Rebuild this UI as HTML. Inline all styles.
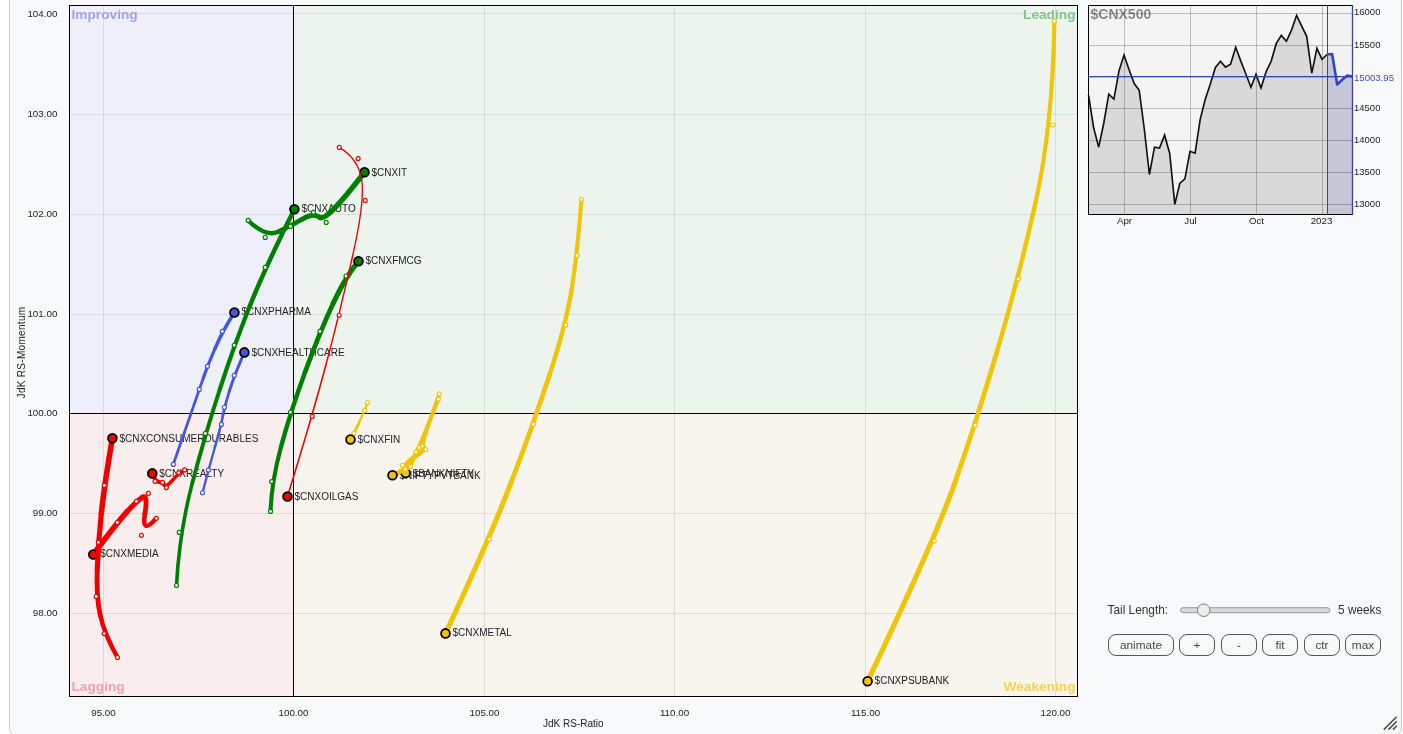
<!DOCTYPE html>
<html lang="en">
<head>
<meta charset="utf-8">
<title>Relative Rotation Graph</title>
<style>
html,body{margin:0;padding:0;background:#fff;}
body{width:1403px;height:734px;overflow:hidden;position:relative;font-family:"Liberation Sans", Arial, sans-serif;}
#panel{position:absolute;left:9px;top:-12px;width:1391px;height:746px;border:1px solid #cdcdcd;border-radius:8px;background:#f8f9fa;}
#chart{position:absolute;left:0;top:0;}
svg text{font-family:"Liberation Sans", Arial, sans-serif;}
.tick{font-size:9.8px;fill:#222;}
.lbl{font-size:10px;fill:#222;}
.quad{font-size:13.7px;font-weight:bold;}
#controls{position:absolute;left:0;top:0;font-size:11.85px;color:#333;}
#controls .t{position:absolute;white-space:nowrap;line-height:14px;}
.btn{position:absolute;top:634px;height:22px;box-sizing:border-box;border:1px solid #555;border-radius:8px;background:#f8f9fa;color:#444;font-family:"Liberation Sans", Arial, sans-serif;font-size:11.8px;line-height:19px;padding:1px 0 0 0;text-align:center;margin:0;}
</style>
</head>
<body>
<div id="panel"></div>

<svg id="chart" width="1403" height="734" viewBox="0 0 1403 734">
<g shape-rendering="crispEdges">
<rect x="69.5" y="5.5" width="224" height="408" fill="#efeff9"/>
<rect x="293.5" y="5.5" width="784" height="408" fill="#edf3ed"/>
<rect x="69.5" y="413.5" width="224" height="283" fill="#f9eded"/>
<rect x="293.5" y="413.5" width="784" height="283" fill="#f8f5ee"/>
<line x1="103.5" y1="5.5" x2="103.5" y2="696.5" stroke="#000" stroke-opacity="0.09"/>
<line x1="484.5" y1="5.5" x2="484.5" y2="696.5" stroke="#000" stroke-opacity="0.09"/>
<line x1="674.5" y1="5.5" x2="674.5" y2="696.5" stroke="#000" stroke-opacity="0.09"/>
<line x1="865.5" y1="5.5" x2="865.5" y2="696.5" stroke="#000" stroke-opacity="0.09"/>
<line x1="1055.5" y1="5.5" x2="1055.5" y2="696.5" stroke="#000" stroke-opacity="0.09"/>
<line x1="69.5" y1="13.5" x2="1077.5" y2="13.5" stroke="#000" stroke-opacity="0.09"/>
<line x1="69.5" y1="114.5" x2="1077.5" y2="114.5" stroke="#000" stroke-opacity="0.09"/>
<line x1="69.5" y1="214.5" x2="1077.5" y2="214.5" stroke="#000" stroke-opacity="0.09"/>
<line x1="69.5" y1="314.5" x2="1077.5" y2="314.5" stroke="#000" stroke-opacity="0.09"/>
<line x1="69.5" y1="513.5" x2="1077.5" y2="513.5" stroke="#000" stroke-opacity="0.09"/>
<line x1="69.5" y1="613.5" x2="1077.5" y2="613.5" stroke="#000" stroke-opacity="0.09"/>
<line x1="293.5" y1="5.5" x2="293.5" y2="696.5" stroke="#000"/>
<line x1="69.5" y1="413.5" x2="1077.5" y2="413.5" stroke="#000"/>
<rect x="69.5" y="5.5" width="1008" height="691" fill="none" stroke="#000"/>
</g>
<text class="quad" x="71.5" y="19.2" fill="#9fa5e3">Improving</text>
<text class="quad" x="1075.5" y="19.2" fill="#86c58a" text-anchor="end">Leading</text>
<text class="quad" x="71.5" y="690.9" fill="#f2a3aa">Lagging</text>
<text class="quad" x="1075.5" y="690.9" fill="#f5d44a" text-anchor="end">Weakening</text>
<text class="tick" x="57.4" y="16.9" text-anchor="end">104.00</text>
<text class="tick" x="57.4" y="116.8" text-anchor="end">103.00</text>
<text class="tick" x="57.4" y="216.8" text-anchor="end">102.00</text>
<text class="tick" x="57.4" y="316.7" text-anchor="end">101.00</text>
<text class="tick" x="57.4" y="415.7" text-anchor="end">100.00</text>
<text class="tick" x="57.4" y="515.8" text-anchor="end">99.00</text>
<text class="tick" x="57.4" y="615.9" text-anchor="end">98.00</text>
<text class="tick" x="103.5" y="715.9" text-anchor="middle">95.00</text>
<text class="tick" x="293.5" y="715.9" text-anchor="middle">100.00</text>
<text class="tick" x="484.5" y="715.9" text-anchor="middle">105.00</text>
<text class="tick" x="674.5" y="715.9" text-anchor="middle">110.00</text>
<text class="tick" x="865.5" y="715.9" text-anchor="middle">115.00</text>
<text class="tick" x="1055.5" y="715.9" text-anchor="middle">120.00</text>
<text class="tick" x="573.3" y="727" text-anchor="middle" style="font-size:10px">JdK RS-Ratio</text>
<text class="tick" transform="translate(24.5 352.5) rotate(-90)" text-anchor="middle" style="font-size:10px;letter-spacing:0.3px">JdK RS-Momentum</text>
<g>
<text class="lbl" x="874.6" y="684.1">$CNXPSUBANK</text>
<text class="lbl" x="452.5" y="636.1">$CNXMETAL</text>
<text class="lbl" x="412.6" y="476.8">$BANKNIFTY</text>
<text class="lbl" x="399.5" y="479.0">$NIFTYPVTBANK</text>
<text class="lbl" x="357.5" y="442.8">$CNXFIN</text>
<text class="lbl" x="100.3" y="557.2">$CNXMEDIA</text>
<text class="lbl" x="119.4" y="442.2">$CNXCONSUMERDURABLES</text>
<text class="lbl" x="159.3" y="477.1">$CNXREALTY</text>
<text class="lbl" x="301.4" y="212.2">$CNXAUTO</text>
<text class="lbl" x="365.5" y="264.1">$CNXFMCG</text>
<text class="lbl" x="371.5" y="176.0">$CNXIT</text>
<text class="lbl" x="294.5" y="499.9">$CNXOILGAS</text>
<text class="lbl" x="241.4" y="315.3">$CNXPHARMA</text>
<text class="lbl" x="251.4" y="356.1">$CNXHEALTHCARE</text>
</g>
<g>
<g fill="none" stroke="#f0c408" stroke-linecap="round" stroke-linejoin="round">
<path d="M1054.40 21.20 Q1052.8 125.0 1035.65 202.05" stroke-width="4.13"/>
<path d="M1035.65 202.05 Q1018.5 279.1 996.85 352.15" stroke-width="4.46"/>
<path d="M996.85 352.15 Q975.2 425.2 954.75 483.15" stroke-width="4.80"/>
<path d="M954.75 483.15 Q934.3 541.1 867.6 681.3" stroke-width="5.14"/>
</g>
<circle cx="1054.4" cy="21.2" r="2" fill="#fff" stroke="#f0c408" stroke-width="1.15"/>
<circle cx="1052.8" cy="125.0" r="2" fill="#fff" stroke="#f0c408" stroke-width="1.15"/>
<circle cx="1018.5" cy="279.1" r="2" fill="#fff" stroke="#f0c408" stroke-width="1.15"/>
<circle cx="975.2" cy="425.2" r="2" fill="#fff" stroke="#f0c408" stroke-width="1.15"/>
<circle cx="934.3" cy="541.1" r="2" fill="#fff" stroke="#f0c408" stroke-width="1.15"/>
<circle cx="867.6" cy="681.3" r="4.4" fill="#f0c408" stroke="#000" stroke-width="1.8"/>
</g>
<g>
<g fill="none" stroke="#f0c408" stroke-linecap="round" stroke-linejoin="round">
<path d="M581.40 199.60 Q577.2 255.5 571.50 290.30" stroke-width="4.13"/>
<path d="M571.50 290.30 Q565.8 325.1 549.55 374.75" stroke-width="4.46"/>
<path d="M549.55 374.75 Q533.3 424.4 511.35 481.95" stroke-width="4.80"/>
<path d="M511.35 481.95 Q489.4 539.5 445.5 633.4" stroke-width="5.14"/>
</g>
<circle cx="581.4" cy="199.6" r="2" fill="#fff" stroke="#f0c408" stroke-width="1.15"/>
<circle cx="577.2" cy="255.5" r="2" fill="#fff" stroke="#f0c408" stroke-width="1.15"/>
<circle cx="565.8" cy="325.1" r="2" fill="#fff" stroke="#f0c408" stroke-width="1.15"/>
<circle cx="533.3" cy="424.4" r="2" fill="#fff" stroke="#f0c408" stroke-width="1.15"/>
<circle cx="489.4" cy="539.5" r="2" fill="#fff" stroke="#f0c408" stroke-width="1.15"/>
<circle cx="445.5" cy="633.4" r="4.4" fill="#f0c408" stroke="#000" stroke-width="1.8"/>
</g>
<g>
<g fill="none" stroke="#f0c408" stroke-linecap="round" stroke-linejoin="round">
<path d="M439.30 393.90 Q425.4 433.4 423.80 439.75" stroke-width="3.87"/>
<path d="M423.80 439.75 Q422.2 446.1 424.00 447.80" stroke-width="4.18"/>
<path d="M424.00 447.80 Q425.8 449.5 414.10 457.35" stroke-width="4.50"/>
<path d="M414.10 457.35 Q402.4 465.2 405.6 473.0" stroke-width="4.82"/>
</g>
<circle cx="439.3" cy="393.9" r="2" fill="#fff" stroke="#f0c408" stroke-width="1.15"/>
<circle cx="425.4" cy="433.4" r="2" fill="#fff" stroke="#f0c408" stroke-width="1.15"/>
<circle cx="422.2" cy="446.1" r="2" fill="#fff" stroke="#f0c408" stroke-width="1.15"/>
<circle cx="425.8" cy="449.5" r="2" fill="#fff" stroke="#f0c408" stroke-width="1.15"/>
<circle cx="402.4" cy="465.2" r="2" fill="#fff" stroke="#f0c408" stroke-width="1.15"/>
<circle cx="405.6" cy="473.0" r="4.4" fill="#f0c408" stroke="#000" stroke-width="1.8"/>
</g>
<g>
<g fill="none" stroke="#f0c408" stroke-linecap="round" stroke-linejoin="round">
<path d="M438.30 399.30 Q419.1 447.6 417.50 449.85" stroke-width="3.87"/>
<path d="M417.50 449.85 Q415.9 452.1 413.10 459.30" stroke-width="4.18"/>
<path d="M413.10 459.30 Q410.3 466.5 407.85 467.90" stroke-width="4.50"/>
<path d="M407.85 467.90 Q405.4 469.3 392.5 475.3" stroke-width="4.82"/>
</g>
<circle cx="438.3" cy="399.3" r="2" fill="#fff" stroke="#f0c408" stroke-width="1.15"/>
<circle cx="419.1" cy="447.6" r="2" fill="#fff" stroke="#f0c408" stroke-width="1.15"/>
<circle cx="415.9" cy="452.1" r="2" fill="#fff" stroke="#f0c408" stroke-width="1.15"/>
<circle cx="410.3" cy="466.5" r="2" fill="#fff" stroke="#f0c408" stroke-width="1.15"/>
<circle cx="405.4" cy="469.3" r="2" fill="#fff" stroke="#f0c408" stroke-width="1.15"/>
<circle cx="392.5" cy="475.3" r="4.4" fill="#f0c408" stroke="#000" stroke-width="1.8"/>
</g>
<g>
<g fill="none" stroke="#f0c408" stroke-linecap="round" stroke-linejoin="round">
<path d="M367.50 402.50 Q364.8 410.4 359.40 421.80" stroke-width="2.24"/>
<path d="M359.40 421.80 Q354.0 433.2 350.5 439.5" stroke-width="2.78"/>
</g>
<circle cx="367.5" cy="402.5" r="2" fill="#fff" stroke="#f0c408" stroke-width="1.15"/>
<circle cx="364.8" cy="410.4" r="2" fill="#fff" stroke="#f0c408" stroke-width="1.15"/>
<circle cx="354.0" cy="433.2" r="2" fill="#fff" stroke="#f0c408" stroke-width="1.15"/>
<circle cx="350.5" cy="439.5" r="4.4" fill="#f0c408" stroke="#000" stroke-width="1.8"/>
</g>
<g>
<g fill="none" stroke="#f20000" stroke-linecap="round" stroke-linejoin="round">
<path d="M156.30 518.30 Q141.4 535.3 144.85 514.30" stroke-width="4.47"/>
<path d="M144.85 514.30 Q148.3 493.3 142.35 497.35" stroke-width="4.84"/>
<path d="M142.35 497.35 Q136.4 501.4 126.85 511.95" stroke-width="5.20"/>
<path d="M126.85 511.95 Q117.3 522.5 93.3 554.5" stroke-width="5.56"/>
</g>
<circle cx="156.3" cy="518.3" r="2" fill="#fff" stroke="#f20000" stroke-width="1.15"/>
<circle cx="141.4" cy="535.3" r="2" fill="#fff" stroke="#f20000" stroke-width="1.15"/>
<circle cx="148.3" cy="493.3" r="2" fill="#fff" stroke="#f20000" stroke-width="1.15"/>
<circle cx="136.4" cy="501.4" r="2" fill="#fff" stroke="#f20000" stroke-width="1.15"/>
<circle cx="117.3" cy="522.5" r="2" fill="#fff" stroke="#f20000" stroke-width="1.15"/>
<circle cx="93.3" cy="554.5" r="4.4" fill="#f20000" stroke="#000" stroke-width="1.8"/>
</g>
<g>
<g fill="none" stroke="#f20000" stroke-linecap="round" stroke-linejoin="round">
<path d="M117.50 657.50 Q104.2 633.6 100.20 615.05" stroke-width="4.47"/>
<path d="M100.20 615.05 Q96.2 596.5 97.25 569.40" stroke-width="4.84"/>
<path d="M97.25 569.40 Q98.3 542.3 101.30 513.85" stroke-width="5.20"/>
<path d="M101.30 513.85 Q104.3 485.4 112.4 438.3" stroke-width="5.56"/>
</g>
<circle cx="117.5" cy="657.5" r="2" fill="#fff" stroke="#f20000" stroke-width="1.15"/>
<circle cx="104.2" cy="633.6" r="2" fill="#fff" stroke="#f20000" stroke-width="1.15"/>
<circle cx="96.2" cy="596.5" r="2" fill="#fff" stroke="#f20000" stroke-width="1.15"/>
<circle cx="98.3" cy="542.3" r="2" fill="#fff" stroke="#f20000" stroke-width="1.15"/>
<circle cx="104.3" cy="485.4" r="2" fill="#fff" stroke="#f20000" stroke-width="1.15"/>
<circle cx="112.4" cy="438.3" r="4.4" fill="#f20000" stroke="#000" stroke-width="1.8"/>
</g>
<g>
<g fill="none" stroke="#f20000" stroke-linecap="round" stroke-linejoin="round">
<path d="M184.70 469.90 Q178.7 472.8 172.55 480.20" stroke-width="3.35"/>
<path d="M172.55 480.20 Q166.4 487.6 164.45 485.00" stroke-width="3.63"/>
<path d="M164.45 485.00 Q162.5 482.4 158.80 481.85" stroke-width="3.90"/>
<path d="M158.80 481.85 Q155.1 481.3 152.3 473.4" stroke-width="4.17"/>
</g>
<circle cx="184.7" cy="469.9" r="2" fill="#fff" stroke="#f20000" stroke-width="1.15"/>
<circle cx="178.7" cy="472.8" r="2" fill="#fff" stroke="#f20000" stroke-width="1.15"/>
<circle cx="166.4" cy="487.6" r="2" fill="#fff" stroke="#f20000" stroke-width="1.15"/>
<circle cx="162.5" cy="482.4" r="2" fill="#fff" stroke="#f20000" stroke-width="1.15"/>
<circle cx="155.1" cy="481.3" r="2" fill="#fff" stroke="#f20000" stroke-width="1.15"/>
<circle cx="152.3" cy="473.4" r="4.4" fill="#f20000" stroke="#000" stroke-width="1.8"/>
</g>
<g>
<g fill="none" stroke="#008000" stroke-linecap="round" stroke-linejoin="round">
<path d="M176.50 585.50 Q179.3 532.4 192.35 482.90" stroke-width="3.61"/>
<path d="M192.35 482.90 Q205.4 433.4 219.80 389.30" stroke-width="3.91"/>
<path d="M219.80 389.30 Q234.2 345.2 249.70 306.30" stroke-width="4.20"/>
<path d="M249.70 306.30 Q265.2 267.4 294.4 209.3" stroke-width="4.49"/>
</g>
<circle cx="176.5" cy="585.5" r="2" fill="#fff" stroke="#008000" stroke-width="1.15"/>
<circle cx="179.3" cy="532.4" r="2" fill="#fff" stroke="#008000" stroke-width="1.15"/>
<circle cx="205.4" cy="433.4" r="2" fill="#fff" stroke="#008000" stroke-width="1.15"/>
<circle cx="234.2" cy="345.2" r="2" fill="#fff" stroke="#008000" stroke-width="1.15"/>
<circle cx="265.2" cy="267.4" r="2" fill="#fff" stroke="#008000" stroke-width="1.15"/>
<circle cx="294.4" cy="209.3" r="4.4" fill="#008000" stroke="#000" stroke-width="1.8"/>
</g>
<g>
<g fill="none" stroke="#008000" stroke-linecap="round" stroke-linejoin="round">
<path d="M270.50 511.40 Q271.6 481.6 281.00 446.90" stroke-width="4.08"/>
<path d="M281.00 446.90 Q290.4 412.2 305.20 371.80" stroke-width="4.42"/>
<path d="M305.20 371.80 Q320.0 331.4 333.00 303.70" stroke-width="4.75"/>
<path d="M333.00 303.70 Q346.0 276.0 358.5 261.2" stroke-width="5.08"/>
</g>
<circle cx="270.5" cy="511.4" r="2" fill="#fff" stroke="#008000" stroke-width="1.15"/>
<circle cx="271.6" cy="481.6" r="2" fill="#fff" stroke="#008000" stroke-width="1.15"/>
<circle cx="290.4" cy="412.2" r="2" fill="#fff" stroke="#008000" stroke-width="1.15"/>
<circle cx="320.0" cy="331.4" r="2" fill="#fff" stroke="#008000" stroke-width="1.15"/>
<circle cx="346.0" cy="276.0" r="2" fill="#fff" stroke="#008000" stroke-width="1.15"/>
<circle cx="358.5" cy="261.2" r="4.4" fill="#008000" stroke="#000" stroke-width="1.8"/>
</g>
<g>
<g fill="none" stroke="#008000" stroke-linecap="round" stroke-linejoin="round">
<path d="M248.20 220.40 Q265.2 237.4 277.85 231.90" stroke-width="4.30"/>
<path d="M277.85 231.90 Q290.5 226.4 302.00 219.35" stroke-width="4.65"/>
<path d="M302.00 219.35 Q313.5 212.3 319.85 217.35" stroke-width="5.00"/>
<path d="M319.85 217.35 Q326.2 222.4 364.5 172.2" stroke-width="5.35"/>
</g>
<circle cx="248.2" cy="220.4" r="2" fill="#fff" stroke="#008000" stroke-width="1.15"/>
<circle cx="265.2" cy="237.4" r="2" fill="#fff" stroke="#008000" stroke-width="1.15"/>
<circle cx="290.5" cy="226.4" r="2" fill="#fff" stroke="#008000" stroke-width="1.15"/>
<circle cx="313.5" cy="212.3" r="2" fill="#fff" stroke="#008000" stroke-width="1.15"/>
<circle cx="326.2" cy="222.4" r="2" fill="#fff" stroke="#008000" stroke-width="1.15"/>
<circle cx="364.5" cy="172.2" r="4.4" fill="#008000" stroke="#000" stroke-width="1.8"/>
</g>
<g>
<g fill="none" stroke="#f20000" stroke-linecap="round" stroke-linejoin="round">
<path d="M339.30 147.40 Q358.1 158.6 361.65 179.50" stroke-width="1.25"/>
<path d="M361.65 179.50 Q365.2 200.4 352.20 257.80" stroke-width="1.35"/>
<path d="M352.20 257.80 Q339.2 315.2 325.70 365.80" stroke-width="1.45"/>
<path d="M325.70 365.80 Q312.2 416.4 287.5 496.5" stroke-width="1.55"/>
</g>
<circle cx="339.3" cy="147.4" r="2" fill="#fff" stroke="#f20000" stroke-width="1.15"/>
<circle cx="358.1" cy="158.6" r="2" fill="#fff" stroke="#f20000" stroke-width="1.15"/>
<circle cx="365.2" cy="200.4" r="2" fill="#fff" stroke="#f20000" stroke-width="1.15"/>
<circle cx="339.2" cy="315.2" r="2" fill="#fff" stroke="#f20000" stroke-width="1.15"/>
<circle cx="312.2" cy="416.4" r="2" fill="#fff" stroke="#f20000" stroke-width="1.15"/>
<circle cx="287.5" cy="496.5" r="4.4" fill="#f20000" stroke="#000" stroke-width="1.8"/>
</g>
<g>
<g fill="none" stroke="#4356de" stroke-linecap="round" stroke-linejoin="round">
<path d="M173.30 464.40 Q199.3 389.4 203.35 377.85" stroke-width="2.84"/>
<path d="M203.35 377.85 Q207.4 366.3 214.85 348.85" stroke-width="3.18"/>
<path d="M214.85 348.85 Q222.3 331.4 234.4 312.5" stroke-width="3.53"/>
</g>
<circle cx="173.3" cy="464.4" r="2" fill="#fff" stroke="#4356de" stroke-width="1.15"/>
<circle cx="199.3" cy="389.4" r="2" fill="#fff" stroke="#4356de" stroke-width="1.15"/>
<circle cx="207.4" cy="366.3" r="2" fill="#fff" stroke="#4356de" stroke-width="1.15"/>
<circle cx="222.3" cy="331.4" r="2" fill="#fff" stroke="#4356de" stroke-width="1.15"/>
<circle cx="234.4" cy="312.5" r="4.4" fill="#4356de" stroke="#000" stroke-width="1.8"/>
</g>
<g>
<g fill="none" stroke="#4356de" stroke-linecap="round" stroke-linejoin="round">
<path d="M202.50 492.70 Q208.4 470.1 214.90 447.25" stroke-width="2.36"/>
<path d="M214.90 447.25 Q221.4 424.4 222.90 415.80" stroke-width="2.56"/>
<path d="M222.90 415.80 Q224.4 407.2 229.30 391.30" stroke-width="2.75"/>
<path d="M229.30 391.30 Q234.2 375.4 244.4 352.4" stroke-width="2.94"/>
</g>
<circle cx="202.5" cy="492.7" r="2" fill="#fff" stroke="#4356de" stroke-width="1.15"/>
<circle cx="208.4" cy="470.1" r="2" fill="#fff" stroke="#4356de" stroke-width="1.15"/>
<circle cx="221.4" cy="424.4" r="2" fill="#fff" stroke="#4356de" stroke-width="1.15"/>
<circle cx="224.4" cy="407.2" r="2" fill="#fff" stroke="#4356de" stroke-width="1.15"/>
<circle cx="234.2" cy="375.4" r="2" fill="#fff" stroke="#4356de" stroke-width="1.15"/>
<circle cx="244.4" cy="352.4" r="4.4" fill="#4356de" stroke="#000" stroke-width="1.8"/>
</g>
<g>
<rect x="1088.5" y="5.5" width="264" height="208.5" fill="#f4f4f4"/>
<path d="M1088.5 214 L1088.5 94.9 L1093.6 127.6 L1098.7 147.2 L1103.7 123.5 L1108.8 94.1 L1113.9 99.1 L1119.0 70.9 L1124.0 55.1 L1129.1 69.8 L1134.2 83.5 L1139.2 90.3 L1144.3 129.0 L1149.4 174.5 L1154.5 147.2 L1159.5 148.0 L1164.6 135.2 L1169.7 153.5 L1174.8 204.4 L1179.8 183.4 L1184.9 178.8 L1190.0 151.3 L1195.1 153.2 L1200.2 119.4 L1205.2 99.5 L1210.3 84.0 L1215.4 67.5 L1220.5 61.3 L1225.5 67.1 L1230.6 64.1 L1235.7 47.3 L1240.8 61.1 L1245.8 73.8 L1250.9 87.3 L1256.0 74.4 L1261.0 88.0 L1266.1 71.7 L1271.2 61.1 L1276.3 43.4 L1281.3 35.4 L1286.4 41.3 L1291.5 30.1 L1296.6 15.4 L1301.7 26.2 L1306.7 36.3 L1311.8 73.1 L1316.9 48.3 L1322.0 59.3 L1327.0 54.5 L1332.1 54.0 L1337.2 84.5 L1342.2 79.7 L1347.3 75.6 L1352.4 76.5 L1352.5 214 Z" fill="#000" fill-opacity="0.11"/>
<rect x="1327.5" y="5.5" width="25" height="208.5" fill="#3344cc" fill-opacity="0.012"/>
<path d="M1327.5 214 L1327.0 54.5 L1332.1 54.0 L1337.2 84.5 L1342.2 79.7 L1347.3 75.6 L1352.4 76.5 L1352.5 214 Z" fill="#3344cc" fill-opacity="0.11"/>
<g shape-rendering="crispEdges" stroke="#000" stroke-opacity="0.22">
<line x1="1088.5" y1="13.5" x2="1352.5" y2="13.5"/>
<line x1="1088.5" y1="45.5" x2="1352.5" y2="45.5"/>
<line x1="1088.5" y1="77.5" x2="1352.5" y2="77.5"/>
<line x1="1088.5" y1="108.5" x2="1352.5" y2="108.5"/>
<line x1="1088.5" y1="140.5" x2="1352.5" y2="140.5"/>
<line x1="1088.5" y1="172.5" x2="1352.5" y2="172.5"/>
<line x1="1088.5" y1="204.5" x2="1352.5" y2="204.5"/>
<line x1="1124.5" y1="5.5" x2="1124.5" y2="214"/>
<line x1="1190.5" y1="5.5" x2="1190.5" y2="214"/>
<line x1="1256.5" y1="5.5" x2="1256.5" y2="214"/>
<line x1="1322.5" y1="5.5" x2="1322.5" y2="214"/>
</g>
<path d="M1088.5 94.9 L1093.6 127.6 L1098.7 147.2 L1103.7 123.5 L1108.8 94.1 L1113.9 99.1 L1119.0 70.9 L1124.0 55.1 L1129.1 69.8 L1134.2 83.5 L1139.2 90.3 L1144.3 129.0 L1149.4 174.5 L1154.5 147.2 L1159.5 148.0 L1164.6 135.2 L1169.7 153.5 L1174.8 204.4 L1179.8 183.4 L1184.9 178.8 L1190.0 151.3 L1195.1 153.2 L1200.2 119.4 L1205.2 99.5 L1210.3 84.0 L1215.4 67.5 L1220.5 61.3 L1225.5 67.1 L1230.6 64.1 L1235.7 47.3 L1240.8 61.1 L1245.8 73.8 L1250.9 87.3 L1256.0 74.4 L1261.0 88.0 L1266.1 71.7 L1271.2 61.1 L1276.3 43.4 L1281.3 35.4 L1286.4 41.3 L1291.5 30.1 L1296.6 15.4 L1301.7 26.2 L1306.7 36.3 L1311.8 73.1 L1316.9 48.3 L1322.0 59.3 L1327.0 54.5" fill="none" stroke="#111" stroke-width="1.65" stroke-linejoin="miter"/>
<path d="M1327.0 54.5 L1332.1 54.0 L1337.2 84.5 L1342.2 79.7 L1347.3 75.6 L1352.4 76.5" fill="none" stroke="#3344cc" stroke-width="2.6" stroke-linejoin="round"/>
<g shape-rendering="crispEdges">
<line x1="1088.5" y1="76.5" x2="1352.5" y2="76.5" stroke="#3344bb"/>
<line x1="1327.5" y1="5.5" x2="1327.5" y2="214" stroke="#3344bb" stroke-width="1"/>
<path d="M1352.5 5.5 H1088.5 V214 H1352.5" fill="none" stroke="#000" stroke-width="1"/>
</g>
<line x1="1352.5" y1="5" x2="1352.5" y2="214.5" stroke="#3a3f9c" stroke-width="1.3"/>
<text x="1090.5" y="19" style="font-size:14px;font-weight:bold" fill="#000" fill-opacity="0.45">$CNX500</text>
<text class="tick" x="1354" y="15.3" style="font-size:9.5px">16000</text>
<text class="tick" x="1354" y="47.6" style="font-size:9.5px">15500</text>
<text class="tick" x="1354" y="110.9" style="font-size:9.5px">14500</text>
<text class="tick" x="1354" y="142.7" style="font-size:9.5px">14000</text>
<text class="tick" x="1354" y="174.7" style="font-size:9.5px">13500</text>
<text class="tick" x="1354" y="206.7" style="font-size:9.5px">13000</text>
<rect x="1353.5" y="71" width="42" height="12" fill="#f8f9fa"/>
<text class="tick" x="1354" y="80.6" style="font-size:9.6px;fill:#3f4fc4">15003.95</text>
<text class="tick" x="1124.5" y="224" text-anchor="middle" style="font-size:9.75px">Apr</text>
<text class="tick" x="1190.5" y="224" text-anchor="middle" style="font-size:9.75px">Jul</text>
<text class="tick" x="1256.5" y="224" text-anchor="middle" style="font-size:9.75px">Oct</text>
<text class="tick" x="1321.5" y="224" text-anchor="middle" style="font-size:9.75px">2023</text>
</g>
<rect x="1180.5" y="607.7" width="149.5" height="5" rx="2.5" fill="#d8d8d8" stroke="#9a9a9a" stroke-width="1"/>
<circle cx="1203.7" cy="610.2" r="6.3" fill="#ececec" stroke="#7c7c7c" stroke-width="1"/>
<g stroke="#4a4a4a" stroke-width="1.5" stroke-linecap="butt">
<line x1="1383.8" y1="729.6" x2="1396.6" y2="716.8"/>
<line x1="1388.4" y1="729.6" x2="1396.8" y2="721.2"/>
<line x1="1393" y1="729.6" x2="1396.8" y2="725.8"/>
</g>
</svg>
<div id="controls">
<span class="t" style="left:1107.5px;top:603px;">Tail Length:</span>
<span class="t" style="left:1338px;top:603px;">5 weeks</span>
<button class="btn" style="left:1108px;width:66px;">animate</button>
<button class="btn" style="left:1179px;width:36px;">+</button>
<button class="btn" style="left:1221px;width:36px;">-</button>
<button class="btn" style="left:1262px;width:36px;">fit</button>
<button class="btn" style="left:1304px;width:36px;">ctr</button>
<button class="btn" style="left:1345px;width:36px;">max</button>
</div>
</body>
</html>
